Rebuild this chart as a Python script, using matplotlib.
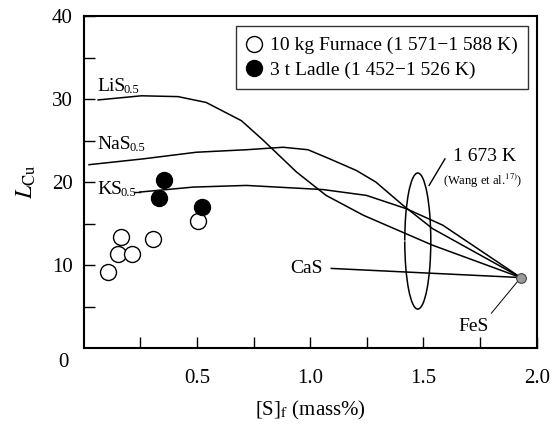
import matplotlib
matplotlib.use("Agg")
import matplotlib.pyplot as plt
from matplotlib.patches import Arc

plt.rcParams['font.family'] = ['Liberation Serif', 'DejaVu Serif']
plt.rcParams['mathtext.fontset'] = 'stix'

# --- data ---
furnace_s = [0.105, 0.151, 0.213, 0.162, 0.306, 0.505]
furnace_l = [9.2, 11.3, 11.3, 13.4, 13.1, 15.3]
ladle_s = [0.355, 0.333, 0.524]
ladle_l = [20.3, 18.1, 17.0]

end_point = (1.93, 8.5)

lis_s = [0.063, 0.254, 0.416, 0.54, 0.696, 0.79, 0.94, 1.07, 1.235, 1.54, 1.93]
lis_l = [29.9, 30.4, 30.3, 29.6, 27.4, 25.1, 21.2, 18.4, 16.0, 12.4, 8.5]
nas_s = [0.023, 0.262, 0.497, 0.718, 0.88, 0.99, 1.086, 1.204, 1.29, 1.41, 1.54, 1.93]
nas_l = [22.1, 22.8, 23.6, 23.9, 24.2, 23.9, 22.8, 21.4, 20.0, 17.2, 14.4, 8.5]
ks_s = [0.247, 0.483, 0.718, 1.057, 1.248, 1.424, 1.586, 1.93]
ks_l = [18.8, 19.4, 19.6, 19.1, 18.4, 16.8, 14.8, 8.5]
cas_s = [1.093, 1.93]
cas_l = [9.6, 8.5]
fes_s = [1.80, 1.93]
fes_l = [4.2, 8.5]

fig = plt.figure(figsize=(5.59, 4.24), dpi=100)
ax = fig.add_axes([0.150, 0.179, 0.810, 0.783])

# --- curves ---
for xs, ys in [(lis_s, lis_l), (nas_s, nas_l), (ks_s, ks_l), (cas_s, cas_l)]:
    ax.plot(xs, ys, color='black', lw=1.1, zorder=2)
ax.plot(fes_s, fes_l, color='black', lw=0.7, zorder=2)
ax.plot(*end_point, 'o', ms=7, mfc='#9a9a9a', mec='#444444', mew=0.8, zorder=4)

# --- measured points ---
h1, = ax.plot(furnace_s, furnace_l, 'o', ms=11.5, mfc='white', mec='black',
              mew=1.0, ls='none', zorder=3)
h2, = ax.plot(ladle_s, ladle_l, 'o', ms=11.5, mfc='black', mec='black',
              ls='none', zorder=3)

# --- ellipse around the curves at 1 673 K ---
ax.add_patch(Arc((1.475, 12.9), 0.115, 16.4, theta1=-142, theta2=137,
                 color='black', lw=1.1))
ax.plot([1.525, 1.595], [19.6, 22.8], color='black', lw=1.0)
ax.text(1.63, 22.6, '1 673 K', fontsize=14)
ax.text(1.585, 19.6, r'(Wang et al.$^{\mathrm{17)}}$)', fontsize=9)


def label(x, y, main, sub):
    t = ax.text(x, y, main, fontsize=14)
    ax.annotate(sub, xy=(1, 0), xycoords=t, xytext=(-1.5, -1),
                textcoords='offset points', fontsize=9, va='bottom')


# --- curve labels ---
label(0.058, 31.0, 'LiS', '0.5')
label(0.062, 24.0, 'NaS', '0.5')
label(0.062, 18.6, 'KS', '0.5')
ax.plot([0.22, 0.247], [18.8, 18.8], color='black', lw=1.0)
ax.text(1.055, 9.0, 'CaS', fontsize=14, ha='right')
ax.text(1.655, 2.1, 'FeS', fontsize=14)

# --- legend ---
leg = ax.legend([h1, h2], ['10 kg Furnace (1 571\u22121 588 K)',
                           '3 t Ladle (1 452\u22121 526 K)'],
                loc='upper right', bbox_to_anchor=(0.982, 0.970),
                fontsize=14, frameon=True, fancybox=False, handlelength=0.8,
                handletextpad=0.4, borderpad=0.55, labelspacing=0.34,
                borderaxespad=0)
leg.get_frame().set_edgecolor('black')
leg.get_frame().set_linewidth(1.0)

# --- axes ---
ax.set_xlim(0, 2.0)
ax.set_ylim(0, 40)
ax.set_xticks([0.25, 0.5, 0.75, 1.0, 1.25, 1.5, 1.75, 2.0])
ax.set_xticklabels(['', '0.5', '', '1.0', '', '1.5', '', '2.0'])
ax.set_yticks([5, 10, 15, 20, 25, 30, 35, 40])
ax.set_yticklabels(['', '10', '', '20', '', '30', '', '40'])
ax.tick_params(direction='in', length=8, width=1.0, labelsize=15)
ax.tick_params(axis='x', pad=15)
ax.tick_params(axis='y', pad=8)
for sp in ax.spines.values():
    sp.set_linewidth(1.5)
ax.text(-0.046, -0.042, '0', transform=ax.transAxes, fontsize=15,
        ha='center', va='center')

ax.set_xlabel(r'[S]$_{\mathrm{f}}$ (mass%)', fontsize=15, labelpad=8)
ax.set_ylabel(r'$L_{\mathrm{Cu}}$', fontsize=17, labelpad=10)

fig.savefig('out.png', dpi=100)
